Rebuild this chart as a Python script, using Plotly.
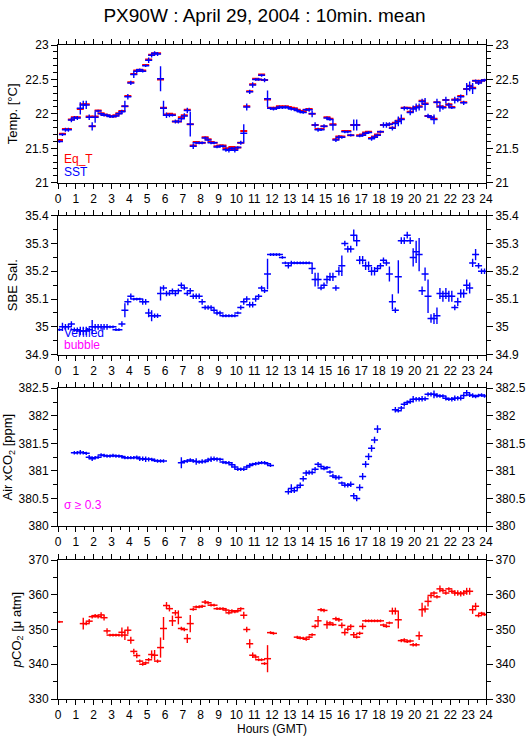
import plotly.graph_objects as go

# ---------------- data (10-minute means, slot centres) ----------------
hours = [(i + 0.5) / 6 for i in range(144)]
hour_ticks = list(range(0, 25))

sst = [21.60, 21.70, 21.77, 21.77,
       21.91, 21.94, 21.94, 22.08, 22.13,
       22.13, 21.95, 21.82, 21.95, 22.04, 22.00, 21.98, 21.98, 21.96, 21.96,
       21.97, 22.00, 22.03, 22.11, 22.25, 22.45, 22.57, 22.62, 22.64, 22.62,
       22.70, 22.78, 22.85, 22.88, 22.87, 22.51, 22.08, 21.98, 21.98, 21.98,
       21.89, 21.89, 21.93, 21.97, 22.05, 21.85, 21.53, 21.58, 21.58, 21.58,
       21.65, 21.62, 21.58, 21.58, 21.52, 21.53, 21.53, 21.48, 21.47, 21.50,
       21.47, 21.51, 21.58, 21.72, 22.10, 22.32, 22.42, 22.50, 22.50, 22.56, 22.49,
       22.22, 22.08, 22.07, 22.08, 22.10, 22.09, 22.10, 22.09, 22.07, 22.07,
       22.05, 22.03, 22.02, 22.06, 22.06, 22.00, 21.84, 21.77, 21.77, 21.82,
       21.94, 21.92, 21.84, 21.62, 21.66, 21.66, 21.74, 21.74, 21.69, 21.84,
       21.84, 21.68, 21.69, 21.72, 21.73, 21.64, 21.66, 21.69, 21.74, 21.84, 21.84,
       21.85, 21.79, 21.86, 21.89, 21.92, 22.08, 22.08, 22.02, 22.07, 22.09,
       22.10, 22.18, 22.14, 21.97, 21.95, 21.92, 22.17, 22.10, 22.09, 22.20,
       22.13, 22.09, 22.20, 22.20, 22.25, 22.16, 22.36, 22.40, 22.37, 22.48, 22.45, 22.48, 22.49]

sst_sd = [.02, .02, .03, .03,
          .03, .03, .03, .09, .06,
          .06, .04, .06, .08, .02, .02, .02, .02, .02, .02,
          .02, .02, .03, .08, .04, .03, .05, .03, .02, .02,
          .02, .04, .03, .03, .03, .18, .11, .04, .03, .02,
          .03, .03, .03, .04, .04, .18, .04, .02, .02, .02,
          .02, .02, .02, .02, .02, .02, .02, .03, .03, .02,
          .03, .02, .03, .13, .05, .03, .04, .02, .02, .02, .03,
          .12, .02, .02, .02, .02, .02, .02, .02, .02, .02,
          .02, .02, .02, .02, .03, .05, .04, .03, .02, .03,
          .02, .02, .08, .03, .03, .02, .02, .02, .02, .08,
          .08, .02, .02, .02, .02, .03, .02, .02, .02, .04, .04,
          .03, .03, .05, .07, .07, .03, .02, .04, .05, .06,
          .05, .04, .09, .03, .03, .07, .05, .07, .03, .05,
          .03, .02, .05, .03, .03, .03, .09, .07, .08, .02, .03, .02, .02]

eq_t = [21.62, 21.71, 21.78, 21.78,
        21.92, 21.95, 21.95, 22.07, 22.14,
        22.14, 21.96, 21.82, 21.96, 22.05, 22.01, 21.99, 21.98, 21.97, 21.96,
        21.98, 22.01, 22.04, 22.11, 22.26, 22.46, 22.58, 22.63, 22.64, 22.63,
        22.71, 22.79, 22.86, 22.88, 22.88, 22.50, 22.09, 21.99, 22.00, 21.99,
        21.89, 21.89, 21.95, 21.98, 22.06, 21.85, 21.54, 21.59, 21.58, 21.58,
        21.66, 21.63, 21.59, 21.58, 21.53, 21.54, 21.54, 21.50, 21.48, 21.52,
        21.49, 21.51, 21.58, 21.75, 22.11, 22.33, 22.43, 22.51, 22.50, 22.57, 22.49,
        22.21, 22.09, 22.08, 22.09, 22.11, 22.10, 22.11, 22.10, 22.09, 22.08,
        22.06, 22.04, 22.03, 22.06, 22.07, 22.00, 21.84, 21.78, 21.78, 21.82,
        21.95, 21.93, 21.85, 21.63, 21.67, 21.67, 21.75, 21.75, 21.69, 21.84,
        21.84, 21.69, 21.70, 21.73, 21.74, 21.65, 21.67, 21.70, 21.74, 21.84, 21.84,
        21.85, 21.80, 21.87, 21.90, 21.93, 22.09, 22.09, 22.03, 22.08, 22.10,
        22.11, 22.19, 22.15, 21.97, 21.95, 21.93, 22.17, 22.11, 22.10, 22.20,
        22.14, 22.10, 22.21, 22.21, 22.26, 22.17, 22.36, 22.41, 22.38, 22.48, 22.46, 22.48, 22.49]

sal = [34.99, 35.00, 35.00, 35.00, 35.01, 34.99, 34.99, 34.985, 34.985, 34.985,
       34.99, 35.00, 35.00, 35.00, 35.00, 35.00, 35.00, 35.00, 35.00, 34.99,
       34.99, 35.01, 35.06, 35.09, 35.11, 35.10, 35.10, 35.10, 35.09, 35.09,
       35.05, 35.04, 35.04, 35.04, 35.12, 35.14, 35.12, 35.12, 35.13, 35.12,
       35.13, 35.15, 35.14, 35.12, 35.13, 35.11, 35.11, 35.11, 35.09, 35.07,
       35.07, 35.07, 35.06, 35.05, 35.05, 35.04, 35.04, 35.04, 35.04, 35.04,
       35.05, 35.07, 35.09, 35.10, 35.08, 35.08, 35.10, 35.11, 35.14, 35.13,
       35.19, 35.26, 35.26, 35.26, 35.26, 35.25, 35.23, 35.22, 35.23, 35.23,
       35.23, 35.23, 35.23, 35.23, 35.23, 35.21, 35.17, 35.17, 35.14, 35.15,
       35.17, 35.18, 35.18, 35.14, 35.20, 35.22, 35.30, 35.28, 35.28, 35.33,
       35.31, 35.24, 35.24, 35.22, 35.22, 35.20, 35.20, 35.21, 35.22, 35.24,
       35.23, 35.19, 35.09, 35.06, 35.18, 35.31, 35.31, 35.33, 35.31, 35.25,
       35.27, 35.26, 35.13, 35.19, 35.11, 35.03, 35.03, 35.04, 35.12, 35.11,
       35.12, 35.11, 35.11, 35.07, 35.09, 35.12, 35.12, 35.15, 35.14, 35.23,
       35.26, 35.22, 35.20, 35.20]

sal_sd = [.005, .015, .01, .01, .01, .008, .008, .015, .015, .015,
          .008, .025, .01, .01, .01, .01, .01, .005, .005, .005,
          .005, .01, .025, .012, .01, .005, .005, .005, .01, .01,
          .015, .02, .008, .008, .025, .01, .01, .008, .008, .01,
          .008, .01, .008, .008, .01, .01, .01, .01, .01, .008,
          .008, .008, .008, .008, .008, .005, .005, .005, .005, .005,
          .005, .008, .01, .01, .01, .01, .01, .008, .008, .008,
          .055, .005, .005, .005, .005, .005, .005, .01, .008, .005,
          .005, .005, .005, .005, .005, .02, .025, .025, .008, .01,
          .015, .015, .015, .01, .015, .037, .01, .012, .012, .02,
          .02, .015, .015, .015, .015, .015, .015, .01, .01, .01,
          .01, .027, .027, .01, .06, .012, .012, .012, .012, .033,
          .04, .06, .015, .024, .06, .015, .02, .03, .02, .02,
          .02, .02, .02, .01, .015, .015, .015, .02, .02, .015,
          .02, .01, .01, .01]

N = None
air_xco2 = [N, N, N, N, N,
            381.33, 381.33, 381.34, 381.33, 381.32, 381.25, 381.22, 381.24, 381.25, 381.29,
            381.28, 381.27, 381.27, 381.28, 381.27, 381.27, 381.26, 381.24, 381.24, 381.24,
            381.24, 381.25, 381.22, 381.22, 381.21, 381.21, 381.21, 381.19, 381.18, 381.18, 381.18,
            N, N, N, N, N,
            381.15, 381.17, 381.18, 381.20, 381.18, 381.17, 381.16, 381.17, 381.17, 381.20,
            381.21, 381.22, 381.21, 381.21, 381.16, 381.15, 381.15, 381.11, 381.07, 381.03,
            381.03, 381.03, 381.07, 381.10, 381.12, 381.13, 381.14, 381.15, 381.15, 381.13, 381.10,
            N, N, N, N, N,
            380.62, 380.68, 380.64, 380.70, 380.74, 380.86, 380.96, 380.97, 380.97, 381.03,
            381.12, 381.08, 381.04, 381.06, 380.98, 380.91, 380.88, 380.88, 380.78, 380.74,
            380.74, 380.76, 380.55, 380.50, 380.70, 380.90, 381.12, 381.26, 381.41, 381.56, 381.76,
            N, N, N, N, N,
            382.11, 382.09, 382.14, 382.21, 382.24, 382.26, 382.30, 382.30, 382.30, 382.31,
            382.31, 382.39, 382.39, 382.39, 382.37, 382.36, 382.36, 382.32, 382.30, 382.30,
            382.32, 382.32, 382.32, 382.37, 382.42, 382.38, 382.37, 382.35, 382.37, 382.38, 382.36]

air_sd = [0, 0, 0, 0, 0,
          .03, .03, .04, .03, .03, .04, .04, .03, .03, .03,
          .03, .03, .03, .03, .03, .03, .03, .03, .03, .03,
          .03, .03, .04, .04, .05, .04, .03, .03, .03, .03, .03,
          0, 0, 0, 0, 0,
          .10, .03, .03, .03, .03, .06, .03, .04, .03, .04,
          .05, .04, .04, .03, .03, .03, .03, .05, .04, .03,
          .03, .03, .03, .04, .03, .03, .03, .03, .03, .03, .03,
          0, 0, 0, 0, 0,
          .05, .08, .04, .05, .05, .05, .05, .04, .04, .04,
          .04, .03, .03, .03, .03, .04, .04, .04, .03, .04,
          .04, .05, .05, .05, .06, .06, .06, .06, .06, .06, .07,
          0, 0, 0, 0, 0,
          .05, .03, .04, .04, .04, .04, .06, .04, .04, .05,
          .04, .04, .04, .07, .04, .03, .03, .04, .03, .04,
          .05, .04, .04, .04, .05, .04, .04, .03, .03, .03, .03]

pco2 = [352.2,
        N, N, N, N, N, N, N,
        351.7, 351.7, 352.4, 353.7, 354.0, 353.7, 354.2, 353.4, 349.6, 348.4,
        348.4, 348.4, 348.4, 349.2, 348.4, 349.8, 346.9, 343.7, 342.5, 340.9,
        340.0, 340.4, 341.3, 342.8, 342.6, 340.9, 344.8, 350.3, 356.9, 356.0,
        352.5, 354.8, 353.5, 350.3, 350.0, 347.4, 351.7, 355.8, 356.5, 356.5,
        356.7, 357.9, 357.7, 357.0, 357.0, 356.0, 356.0, 356.0, 355.6, 354.8,
        355.4, 355.1, 355.4, 356.0, 354.1, 350.0, 345.9, 342.6, 342.1, 341.3,
        341.3, 340.2, 341.6, 349.1, 348.9,
        N, N, N, N, N, N, N,
        347.8, 347.5, 347.5, 347.2, 347.8, 348.5, 350.9, 352.5, 355.7, 355.5,
        351.4, 351.9, 351.4, 353.1, 352.8, 351.2, 349.1, 350.1, 350.9, 348.5,
        347.8, 348.9, 350.9, 352.5, 352.5, 352.5, 352.5, 352.5, 352.5, 351.3,
        350.9, 351.9, 355.3, 355.3, 352.8, 346.8, 347.0, 346.5, 346.7, 345.6,
        345.6, 348.2, 355.7, 355.9, 358.1, 359.8, 360.5, 359.4, 361.7, 361.2,
        360.5, 361.7, 361.0, 360.5, 360.5, 360.3, 360.5, 361.0, 361.0, 355.7,
        356.7, 354.0, 354.7, 354.3]

pco2_sd = [0.3,
           0, 0, 0, 0, 0, 0, 0,
           1.7, .5, .6, .5, .5, .5, .8, .8, .8, .4,
           .4, .4, .4, 1.4, 1.4, 1.1, 1.0, .8, .8, .5,
           .4, .4, .5, 1.2, 1.5, .5, 2.9, 3.3, 1.0, .8,
           1.5, .8, 2.0, .5, .5, 1.3, 2.5, .4, .4, .4,
           .4, .6, .4, .4, .4, .4, .4, .4, .5, .5,
           .4, .4, .4, .4, 1.0, .8, 1.3, .8, .5, .4,
           .4, .4, 3.9, .4, .4,
           0, 0, 0, 0, 0, 0, 0,
           .4, .4, .4, .4, .4, .4, .6, 1.4, .5, .5,
           1.2, .5, .4, .6, .6, .8, .8, .6, .6, .8,
           .4, .5, .9, .4, .4, .4, .4, .4, .4, .4,
           .4, .4, 1.0, 1.0, 2.5, .5, .5, .4, .4, .5,
           .5, 1.2, 2.0, 1.0, 1.5, .8, .5, .5, 1.0, .5,
           .5, .5, .5, .8, .8, .8, .8, 1.0, 1.0, 1.2,
           1.0, .5, .4, .4]

for arr in (sst, sst_sd, eq_t, sal, sal_sd, air_xco2, air_sd, pco2, pco2_sd):
    assert len(arr) == 144, len(arr)

temp_ticks = [21, 21.5, 22, 22.5, 23]
sal_ticks = [34.9, 35.0, 35.1, 35.2, 35.3, 35.4]
air_ticks = [380, 380.5, 381, 381.5, 382, 382.5]
pco2_ticks = [330, 340, 350, 360, 370]

# ---------------- styling ----------------
FONT = "Liberation Sans, Arial, Helvetica, sans-serif"
BLUE = "#0000ff"
RED = "#ff0000"
MAG = "#ff00ff"
W, H = 529, 739
ML, MR, MT, MB = 58, 43, 45, 40

domains = [[0.7894, 1.0], [0.5265, 0.739], [0.2645, 0.4751], [0.0, 0.2125]]
ranges = [[21, 23], [34.9, 35.4], [380, 382.5], [330, 370]]
tickvals = [temp_ticks, sal_ticks, air_ticks, pco2_ticks]
minor_dt = [0.1, 0.05, 0.25, 5]
titles = ["Temp. [°C]", "SBE Sal.", "Air xCO<sub>2</sub> [ppm]",
          "<i>p</i>CO<sub>2</sub> [μ atm]"]

fig = go.Figure()


def dash_trace(y, sd, color, xa, ya, lw=1.5):
    return go.Scatter(
        x=hours, y=y, mode="markers", xaxis=xa, yaxis=ya,
        marker=dict(symbol="line-ew", size=5, color=color,
                    line=dict(color=color, width=lw)),
        error_y=None if sd is None else dict(type="data", array=sd, visible=True,
                                             color=color, thickness=1.4, width=0),
        showlegend=False, hoverinfo="skip")


fig.add_trace(dash_trace(eq_t, None, RED, "x", "y", lw=2))
fig.add_trace(dash_trace(sst, sst_sd, BLUE, "x", "y"))
fig.add_trace(dash_trace(sal, sal_sd, BLUE, "x2", "y2"))
fig.add_trace(dash_trace(air_xco2, air_sd, BLUE, "x3", "y3"))
fig.add_trace(dash_trace(pco2, pco2_sd, RED, "x4", "y4"))

# dummy traces for right-hand axes
for k in range(4):
    fig.add_trace(go.Scatter(x=[None], y=[None], xaxis="x" if k == 0 else f"x{k+1}",
                             yaxis=f"y{k+5}", showlegend=False, hoverinfo="skip"))

tickfont = dict(family=FONT, size=12, color="black")
layout = dict(
    width=W, height=H, margin=dict(l=ML, r=MR, t=MT, b=MB, autoexpand=False),
    paper_bgcolor="white", plot_bgcolor="white",
    font=dict(family=FONT, size=12, color="black"),
    showlegend=False, hovermode=False,
    title=dict(text="PX90W : April 29, 2004 : 10min. mean", x=0.5, xanchor="center",
               xref="container", yref="container", automargin=False,
               y=1 - 15 / H, yanchor="middle", font=dict(family=FONT, size=19, color="black")),
)

for k in range(4):
    xname = "xaxis" if k == 0 else f"xaxis{k+1}"
    yname = "yaxis" if k == 0 else f"yaxis{k+1}"
    ryname = f"yaxis{k+5}"
    yid = "y" if k == 0 else f"y{k+1}"
    xid = "x" if k == 0 else f"x{k+1}"
    layout[xname] = dict(
        domain=[0, 1], anchor=yid, range=[0, 24], tickmode="array", tickvals=hour_ticks,
        ticks="outside", ticklen=5, tickwidth=1, tickcolor="black",
        minor=dict(tickmode="linear", tick0=0, dtick=0.5, ticks="outside", ticklen=3,
                   tickcolor="black", tickwidth=1),
        showline=True, linecolor="black", linewidth=1, mirror="ticks", automargin=False,
        showgrid=False, zeroline=False, tickfont=tickfont, fixedrange=True)
    common_y = dict(
        domain=domains[k], range=ranges[k], tickmode="array", tickvals=tickvals[k],
        ticks="outside", ticklen=6, tickwidth=1, tickcolor="black",
        minor=dict(tickmode="linear", tick0=ranges[k][0], dtick=minor_dt[k], ticks="outside",
                   ticklen=4, tickcolor="black", tickwidth=1),
        showline=True, linecolor="black", linewidth=1, automargin=False,
        showgrid=False, zeroline=False, tickfont=tickfont, fixedrange=True)
    layout[yname] = dict(common_y, anchor=xid, side="left",
                         title=dict(text=titles[k], font=dict(family=FONT, size=13),
                                    standoff=4))
    layout[ryname] = dict(common_y, anchor=xid, side="right", overlaying=yid)

layout["xaxis4"]["title"] = dict(text="Hours (GMT)", font=dict(family=FONT, size=12), standoff=2)

fig.update_layout(**layout)

ann = [
    dict(text="Eq_T", x=0.2, y=21.35, xref="x", yref="y", color=RED),
    dict(text="SST", x=0.2, y=21.15, xref="x", yref="y", color=BLUE),
    dict(text="Verified", x=0.2, y=34.979, xref="x2", yref="y2", color=BLUE),
    dict(text="bubble", x=0.2, y=34.935, xref="x2", yref="y2", color=MAG),
    dict(text="σ ≥ 0.3", x=0.2, y=380.39, xref="x3", yref="y3", color=MAG),
]
for a in ann:
    fig.add_annotation(text=a["text"], x=a["x"], y=a["y"], xref=a["xref"], yref=a["yref"],
                       xanchor="left", yanchor="middle", showarrow=False,
                       font=dict(family=FONT, size=12, color=a["color"]))

fig.write_html(
    "out.html",
    config={"displayModeBar": False, "staticPlot": True},
    post_script="document.body.style.margin='0';"
                "document.body.style.overflow='hidden';"
                "document.documentElement.style.overflow='hidden';",
)
